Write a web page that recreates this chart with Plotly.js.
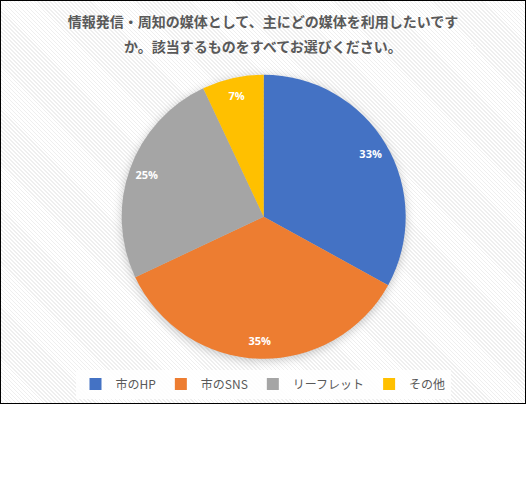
<!DOCTYPE html>
<html>
<head>
<meta charset="utf-8">
<script src="https://cdn.plot.ly/plotly-3.0.1.min.js"></script>
<style>
  body { margin: 0; background: #fff; }
  #box {
    position: absolute; left: 0; top: 0;
    width: 524px; height: 402px;
    border: 1px solid #000;
    background: repeating-linear-gradient(45deg, #ffffff 0px, #ffffff 1.7px, #efefef 1.7px, #efefef 2.8px);
  }
  #myPlot { width: 524px; height: 402px; }
  .pielayer .trace:first-child { filter: drop-shadow(0px 2px 5px rgba(0,0,0,0.22)); }
</style>
</head>
<body>
<div id="box"><div id="myPlot"></div></div>
<script>
// survey answers (share of respondents, %)
let labels = ["市のHP", "市のSNS", "リーフレット", "その他"];
let values = [33, 35, 25, 7];
let colors = ["#4472C4", "#ED7D31", "#A5A5A5", "#FFC000"];
let title1 = "情報発信・周知の媒体として、主にどの媒体を利用したいです";
let title2 = "か。該当するものをすべてお選びください。";

let pieDomain = { x: [0.2303, 0.7723], y: [0.110, 0.8167] };

// the coloured slices
var trace1 = {
  labels: labels,
  values: values,
  type: 'pie',
  sort: false,
  direction: 'clockwise',
  rotation: 0,
  marker: { colors: colors, line: { color: '#ffffff', width: 0 } },
  textinfo: 'none',
  hoverinfo: 'label+percent',
  domain: pieDomain
};

// same data again as a transparent ring, only to put the % labels near the rim
var trace2 = {
  labels: labels,
  values: values,
  type: 'pie',
  sort: false,
  direction: 'clockwise',
  rotation: 0,
  hole: 0.75,
  showlegend: false,
  marker: { colors: ['rgba(0,0,0,0)', 'rgba(0,0,0,0)', 'rgba(0,0,0,0)', 'rgba(0,0,0,0)'], line: { width: 0 } },
  texttemplate: '%{percent:.0%}',
  textposition: 'inside',
  insidetextorientation: 'horizontal',
  textfont: { family: 'Open Sans, sans-serif', size: 11, color: '#ffffff', weight: 'bold' },
  hoverinfo: 'skip',
  domain: pieDomain
};

var titleFont = { family: 'Noto Sans CJK JP, sans-serif', size: 14, color: '#595959', weight: 'bold' };

var layout = {
  width: 524,
  height: 402,
  margin: { l: 0, r: 0, t: 0, b: 0 },
  paper_bgcolor: 'rgba(0,0,0,0)',
  plot_bgcolor: 'rgba(0,0,0,0)',
  title: {
    text: title1,
    font: titleFont,
    x: 0.5,
    xanchor: 'center',
    y: 1 - 21 / 402,
    yanchor: 'middle'
  },
  annotations: [{
    text: title2,
    font: titleFont,
    xref: 'paper', yref: 'paper',
    x: 0.5, y: 1 - 45 / 402,
    xanchor: 'center', yanchor: 'middle',
    showarrow: false
  }],
  showlegend: true,
  legend: {
    orientation: 'h',
    x: 0.5, xanchor: 'center',
    y: 1 - 383 / 402, yanchor: 'middle',
    bgcolor: 'rgba(255,255,255,0.85)',
    font: { family: 'Noto Sans CJK JP, sans-serif', size: 12, color: '#595959' },
    traceorder: 'normal'
  }
};

Plotly.newPlot("myPlot", [trace1, trace2], layout, { displayModeBar: false, staticPlot: true });
</script>
</body>
</html>
